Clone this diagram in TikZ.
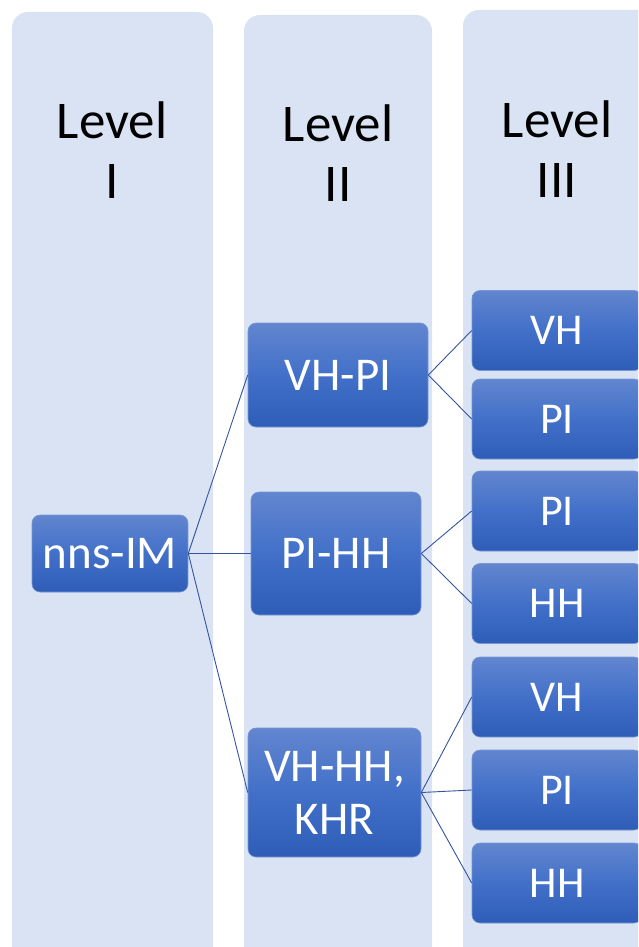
\documentclass[tikz,border=0pt]{standalone}
\usepackage{fontspec}
\setmainfont{Carlito}
\definecolor{colbg}{RGB}{218,227,243}
\definecolor{ntop}{RGB}{98,134,207}
\definecolor{nmid}{RGB}{66,112,201}
\definecolor{nbot}{RGB}{46,93,183}
\definecolor{nedge}{RGB}{120,150,210}
\definecolor{connc}{RGB}{52,84,160}
\begin{document}
\begin{tikzpicture}[x=1pt,y=-1pt,
  colbox/.style={fill=colbg,rounded corners=16pt},
  lvl/.style={font=\fontsize{53}{60}\selectfont,align=center,inner sep=0pt,text=black},
  box/.style={rounded corners=8pt,top color=ntop,bottom color=nbot,middle color=nmid,draw=nedge,line width=0.6pt,
    text=white,inner sep=0pt,align=center},
  boxA/.style={box,font=\fontsize{47}{53}\selectfont},
  boxB/.style={box,font=\fontsize{44}{50}\selectfont,minimum width=170pt,minimum height=80pt},
  conn/.style={draw=connc,line width=0.9pt}]
\path[clip] (0,0) rectangle (638,947);
% columns
\path[colbox] (12,12) rectangle (213,985);
\path[colbox] (244,15) rectangle (432,985);
\path[colbox] (463,10) rectangle (680,985);
% level labels
\node[lvl] (l1) at (112,150) {Level\\I};
\node[lvl] (l2) at (338,153) {Level\\II};
\node[lvl] (l3) at (557,149) {Level\\III};
% nodes
\node[boxA,minimum width=156pt,minimum height=77pt] (nns) at (110,553.5) {nns-IM};
\node[boxA,minimum width=180pt,minimum height=104pt] (vhpi) at (338,375) {VH-PI};
\node[boxA,minimum width=170pt,minimum height=123pt] (pihh) at (336,553.5) {PI-HH};
\node[boxA,minimum width=173pt,minimum height=129pt] (vhhh) at (334.5,792.5) {VH-HH,\\KHR};
\node[boxB] (a1) at (557,330.5) {VH};
\node[boxB] (a2) at (557,419) {PI};
\node[boxB] (b1) at (557,511) {PI};
\node[boxB] (b2) at (557,603.5) {HH};
\node[boxB] (c1) at (557,697) {VH};
\node[boxB] (c2) at (557,790) {PI};
\node[boxB] (c3) at (557,883) {HH};
% connectors
\draw[conn] (nns.east) -- (vhpi.west);
\draw[conn] (nns.east) -- (pihh.west);
\draw[conn] (nns.east) -- (vhhh.west);
\draw[conn] (vhpi.east) -- (a1.west);
\draw[conn] (vhpi.east) -- (a2.west);
\draw[conn] (pihh.east) -- (b1.west);
\draw[conn] (pihh.east) -- (b2.west);
\draw[conn] (vhhh.east) -- (c1.west);
\draw[conn] (vhhh.east) -- (c2.west);
\draw[conn] (vhhh.east) -- (c3.west);
\end{tikzpicture}
\end{document}
